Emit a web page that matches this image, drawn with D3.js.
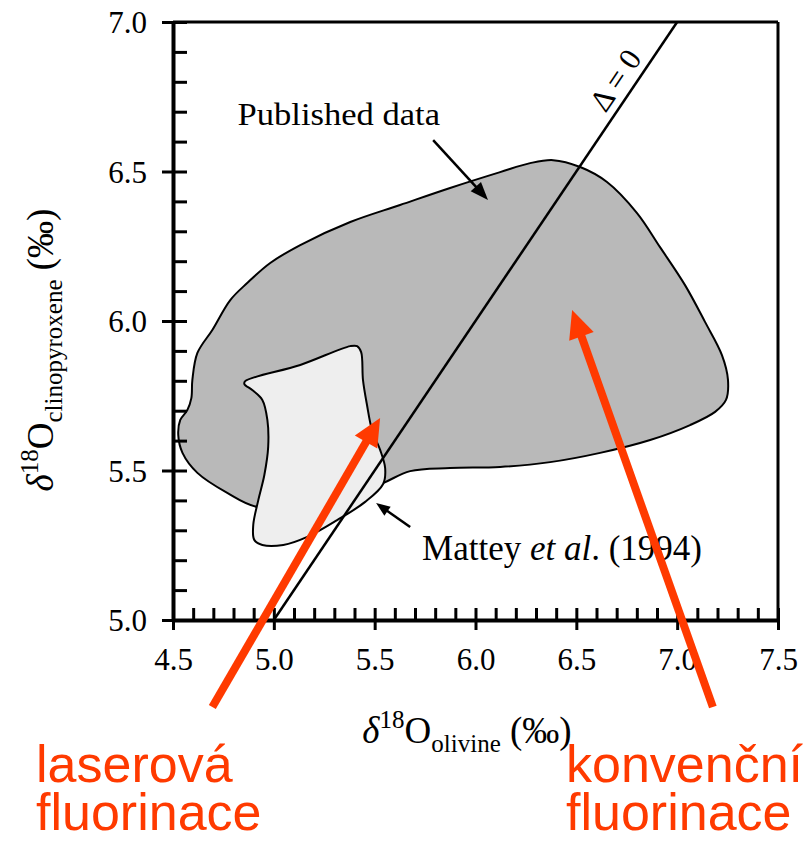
<!DOCTYPE html>
<html>
<head>
<meta charset="utf-8">
<script src="https://cdn.jsdelivr.net/npm/d3@7"></script>
<style>
  body { margin: 0; background: #fff; }
  svg { display: block; }
</style>
</head>
<body>
<div id="chart"></div>
<script>
// Axis ticks
const xTicks = [4.5, 5.0, 5.5, 6.0, 6.5, 7.0, 7.5];
const yTicks = [5.0, 5.5, 6.0, 6.5, 7.0];

// Outline of the published data field (olivine, clinopyroxene)
const publishedOutline = [
  [4.695, 5.970], [4.784, 6.070], [4.868, 6.127], [4.982, 6.194], [5.131, 6.254],
  [5.379, 6.331], [5.626, 6.388], [5.874, 6.445], [6.122, 6.498], [6.271, 6.528],
  [6.385, 6.538], [6.519, 6.515], [6.652, 6.465], [6.801, 6.361], [6.915, 6.247],
  [7.039, 6.120], [7.138, 5.997], [7.222, 5.886], [7.252, 5.803], [7.242, 5.736],
  [7.188, 5.696], [7.064, 5.652], [6.866, 5.602], [6.618, 5.559], [6.370, 5.528],
  [6.122, 5.512], [5.874, 5.508], [5.676, 5.498], [5.542, 5.458], [5.280, 5.385],
  [4.918, 5.378], [4.769, 5.425], [4.621, 5.492], [4.547, 5.559], [4.526, 5.619],
  [4.536, 5.669], [4.571, 5.702], [4.591, 5.742], [4.596, 5.803], [4.621, 5.893]
];

// Outline of the Mattey et al. (1994) field
const matteyOutline = [
  [4.858, 5.799], [5.131, 5.853], [5.379, 5.916], [5.413, 5.916], [5.433, 5.896],
  [5.442, 5.803], [5.462, 5.719], [5.487, 5.635], [5.527, 5.569], [5.552, 5.508],
  [5.542, 5.455], [5.453, 5.395], [5.314, 5.334], [5.166, 5.278], [5.047, 5.251],
  [4.943, 5.251], [4.903, 5.268], [4.898, 5.318], [4.923, 5.401], [4.953, 5.485],
  [4.972, 5.579], [4.968, 5.669], [4.943, 5.736], [4.893, 5.769], [4.854, 5.789]
];

// Delta = 0 line (equal values)
const deltaLine = [[5.0, 5.0], [7.0, 7.0]];

// Annotation arrows: [tail, tip]
const publishedArrow = [[5.79, 6.605], [6.062, 6.405]];
const matteyArrow = [[5.676, 5.311], [5.507, 5.391]];
const laserArrow = [[4.695, 4.709], [5.527, 5.676]];
const conventionalArrow = [[7.177, 4.709], [6.479, 6.037]];

const width = 810, height = 842;
const margin = {top: 22, right: 32, bottom: 222, left: 173};
const innerW = width - margin.left - margin.right;
const innerH = height - margin.top - margin.bottom;
const serif = "'Liberation Serif', 'Times New Roman', serif";
const red = "#ff3a00";

const svg = d3.select("#chart").append("svg")
  .attr("width", width)
  .attr("height", height);

const g = svg.append("g")
  .attr("transform", `translate(${margin.left},${margin.top})`);

const x = d3.scaleLinear().domain([4.5, 7.5]).range([0, innerW]);
const y = d3.scaleLinear().domain([5.0, 7.0]).range([innerH, 0]);

// Fields
const area = d3.line()
  .x(d => x(d[0]))
  .y(d => y(d[1]))
  .curve(d3.curveCatmullRomClosed.alpha(0.5));

g.append("path")
  .attr("d", area(publishedOutline))
  .attr("fill", "#b9b9b9")
  .attr("stroke", "#000")
  .attr("stroke-width", 2);

g.append("path")
  .attr("d", area(matteyOutline))
  .attr("fill", "#eeeeee")
  .attr("stroke", "#000")
  .attr("stroke-width", 2);

// Delta = 0 line
g.append("line")
  .attr("x1", x(deltaLine[0][0])).attr("y1", y(deltaLine[0][1]))
  .attr("x2", x(deltaLine[1][0])).attr("y2", y(deltaLine[1][1]))
  .attr("stroke", "#000")
  .attr("stroke-width", 2.5);

const angle = Math.atan2(y(deltaLine[1][1]) - y(deltaLine[0][1]), x(deltaLine[1][0]) - x(deltaLine[0][0])) * 180 / Math.PI;
g.append("text")
  .attr("transform", `translate(${x(6.692)},${y(6.806)}) rotate(${angle})`)
  .attr("text-anchor", "middle")
  .attr("dy", "0.35em")
  .attr("font-family", serif)
  .attr("font-size", 31)
  .text("Δ = 0");

// Frame (top and right)
g.append("line")
  .attr("x1", 0).attr("x2", innerW).attr("y1", 0).attr("y2", 0)
  .attr("stroke", "#000").attr("stroke-width", 3);
g.append("line")
  .attr("x1", innerW).attr("x2", innerW).attr("y1", 0).attr("y2", innerH)
  .attr("stroke", "#000").attr("stroke-width", 3);

// Minor ticks (every 0.1, pointing inward)
const xMinor = d3.range(45, 76).map(v => v / 10).filter(v => !xTicks.some(t => Math.abs(t - v) < 1e-6));
const yMinor = d3.range(50, 71).map(v => v / 10).filter(v => !yTicks.some(t => Math.abs(t - v) < 1e-6));

g.append("g")
  .attr("transform", `translate(0,${innerH})`)
  .call(d3.axisBottom(x).tickValues(xMinor).tickSize(-12).tickSizeOuter(0).tickFormat(""))
  .call(a => a.select(".domain").remove())
  .call(a => a.selectAll(".tick line").attr("stroke-width", 3));

g.append("g")
  .call(d3.axisLeft(y).tickValues(yMinor).tickSize(-14).tickSizeOuter(0).tickFormat(""))
  .call(a => a.select(".domain").remove())
  .call(a => a.selectAll(".tick line").attr("stroke-width", 3));

// Major axes
const xAxisG = g.append("g")
  .attr("transform", `translate(0,${innerH})`)
  .call(d3.axisBottom(x).tickValues(xTicks).tickSize(10).tickSizeOuter(0).tickFormat(d3.format(".1f")))
  .attr("font-family", serif)
  .attr("font-size", 31);
xAxisG.selectAll(".tick line").attr("y1", -12).attr("stroke-width", 3);
xAxisG.selectAll(".tick text")
  .attr("y", 50).attr("dy", null).attr("fill", "#000");
xAxisG.select(".domain").attr("stroke-width", 4);

const yAxisG = g.append("g")
  .call(d3.axisLeft(y).tickValues(yTicks).tickSize(11).tickSizeOuter(0).tickFormat(d3.format(".1f")))
  .attr("font-family", serif)
  .attr("font-size", 31);
yAxisG.selectAll(".tick line").attr("x1", 14).attr("stroke-width", 3);
yAxisG.selectAll(".tick text")
  .attr("x", -26).attr("dy", "0.35em").attr("fill", "#000");
yAxisG.select(".domain").attr("stroke-width", 4);

// Axis titles
const xTitle = svg.append("text")
  .attr("x", 467).attr("y", 743)
  .attr("text-anchor", "middle")
  .attr("font-family", serif)
  .attr("font-size", 37);
xTitle.append("tspan").attr("font-style", "italic").text("δ");
xTitle.append("tspan").attr("dy", -15).attr("font-size", 25).text("18");
xTitle.append("tspan").attr("dy", 15).text("O");
xTitle.append("tspan").attr("dy", 9).attr("font-size", 25).text("olivine");
xTitle.append("tspan").attr("dy", -9).text(" (‰)");

const yTitle = svg.append("text")
  .attr("transform", "translate(53,350) rotate(-90)")
  .attr("text-anchor", "middle")
  .attr("font-family", serif)
  .attr("font-size", 37);
yTitle.append("tspan").attr("font-style", "italic").text("δ");
yTitle.append("tspan").attr("dy", -15).attr("font-size", 25).text("18");
yTitle.append("tspan").attr("dy", 15).text("O");
yTitle.append("tspan").attr("dy", 9).attr("font-size", 25).text("clinopyroxene");
yTitle.append("tspan").attr("dy", -9).text(" (‰)");

// Arrow helper (line + filled head)
function drawArrow(parent, pts, color, lineW, headLen, headW) {
  const x0 = x(pts[0][0]), y0 = y(pts[0][1]);
  const x1 = x(pts[1][0]), y1 = y(pts[1][1]);
  const len = Math.hypot(x1 - x0, y1 - y0);
  const ux = (x1 - x0) / len, uy = (y1 - y0) / len;
  const bx = x1 - ux * headLen, by = y1 - uy * headLen;
  parent.append("line")
    .attr("x1", x0).attr("y1", y0)
    .attr("x2", bx + ux * 2).attr("y2", by + uy * 2)
    .attr("stroke", color)
    .attr("stroke-width", lineW);
  parent.append("path")
    .attr("d", `M${x1},${y1}L${bx - uy * headW / 2},${by + ux * headW / 2}L${bx + uy * headW / 2},${by - ux * headW / 2}Z`)
    .attr("fill", color);
}

drawArrow(g, publishedArrow, "#000", 2.5, 18, 14);
drawArrow(g, matteyArrow, "#000", 2.5, 14, 11);

// Field labels
g.append("text")
  .attr("transform", `translate(${x(4.82)},${y(6.656)}) scale(1.08,1)`)
  .attr("font-family", serif)
  .attr("font-size", 32)
  .text("Published data");

const mattey = g.append("text")
  .attr("x", x(5.735)).attr("y", y(5.2))
  .attr("font-family", serif)
  .attr("font-size", 35);
mattey.append("tspan").text("Mattey ");
mattey.append("tspan").attr("font-style", "italic").text("et al");
mattey.append("tspan").text(". (1994)");

// Red arrows and labels
drawArrow(g, laserArrow, red, 8, 28, 26);
drawArrow(g, conventionalArrow, red, 8, 28, 26);

const redLabels = [
  {x: 36, lines: ["laserová", "fluorinace"]},
  {x: 566, lines: ["konvenční", "fluorinace"]}
];
redLabels.forEach(l => {
  const t = svg.append("text")
    .attr("x", l.x).attr("y", 782)
    .attr("fill", red)
    .attr("font-family", "'Liberation Sans', Arial, sans-serif")
    .attr("font-size", 52);
  l.lines.forEach((s, i) => {
    t.append("tspan").attr("x", l.x).attr("dy", i === 0 ? 0 : 48).text(s);
  });
});
</script>
</body>
</html>
